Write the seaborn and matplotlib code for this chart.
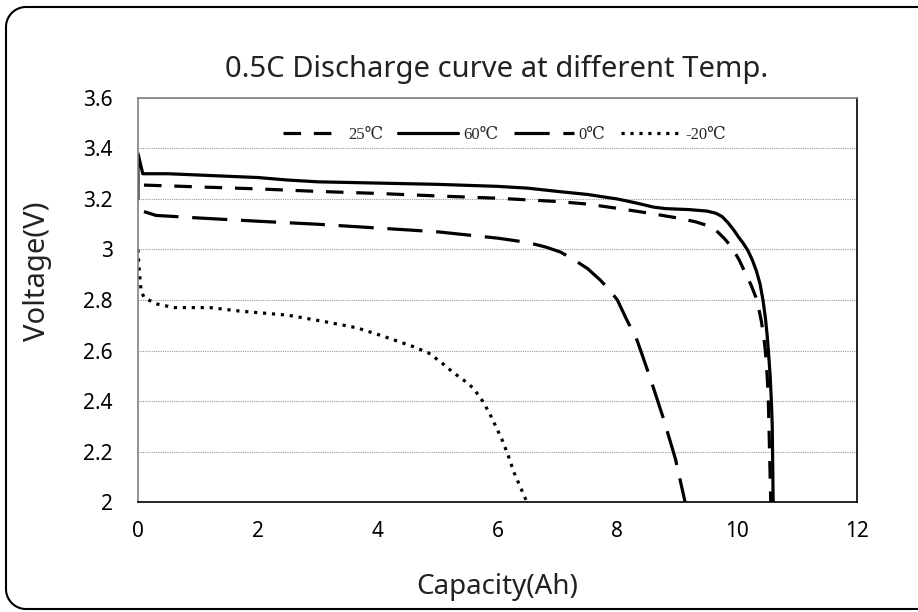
import numpy as np
import pandas as pd
import matplotlib
matplotlib.use("Agg")
import matplotlib.pyplot as plt
import seaborn as sns
from matplotlib.lines import Line2D
from matplotlib.ticker import FuncFormatter

sns.set_theme(style="white")
plt.rcParams['font.family'] = ['Noto Sans', 'DejaVu Sans']

# Capacity (Ah) / Voltage (V) per temperature
cap_25 = [0.1, 0.5, 1, 2, 3, 4, 5, 6, 7, 7.5, 8, 8.5, 9, 9.3, 9.5, 9.65, 9.78, 9.87,
          9.93, 10.03, 10.13, 10.23, 10.33, 10.4, 10.44, 10.47, 10.5, 10.52, 10.54, 10.56]
volt_25 = [3.255, 3.252, 3.248, 3.24, 3.23, 3.222, 3.212, 3.203, 3.19, 3.18, 3.163, 3.145,
           3.125, 3.11, 3.095, 3.075, 3.045, 3.02, 3.0, 2.96, 2.91, 2.86, 2.8, 2.72, 2.66,
           2.6, 2.5, 2.4, 2.2, 2.0]

cap_60 = [0, 0, 0.08, 0.5, 1, 2, 2.5, 3, 4, 5, 6, 6.5, 7, 7.5, 8, 8.3, 8.6, 8.8,
          9.2, 9.5, 9.65, 9.75, 9.85, 9.94, 10.02, 10.1, 10.18, 10.25, 10.32, 10.38, 10.43,
          10.47, 10.5, 10.52, 10.55, 10.57, 10.585, 10.59, 10.6]
volt_60 = [3.2, 3.38, 3.30, 3.30, 3.295, 3.285, 3.275, 3.268, 3.263, 3.258, 3.25, 3.243,
           3.23, 3.218, 3.2, 3.185, 3.168, 3.162, 3.158, 3.152, 3.143, 3.13, 3.105, 3.078,
           3.05, 3.025, 2.995, 2.96, 2.915, 2.865, 2.8, 2.73, 2.66, 2.6, 2.5, 2.4, 2.3,
           2.2, 2.0]

cap_0 = [0.1, 0.3, 1, 2, 3, 4, 5, 6, 6.5, 6.8, 7.05, 7.27, 7.5, 7.71, 7.85, 8.0, 8.15,
         8.33, 8.55, 8.77, 8.97, 9.13]
volt_0 = [3.15, 3.135, 3.125, 3.112, 3.1, 3.085, 3.07, 3.045, 3.028, 3.01, 2.99, 2.96,
          2.925, 2.88, 2.845, 2.8, 2.725, 2.64, 2.49, 2.33, 2.17, 2.0]

cap_m20 = [0, 0.02, 0.05, 0.1, 0.3, 0.6, 1.2, 1.7, 2.0, 2.5, 3.1, 3.65, 4.05, 4.6,
           4.85, 5.05, 5.25, 5.45, 5.6, 5.75, 5.87, 5.97, 6.07, 6.17, 6.27, 6.38, 6.49]
volt_m20 = [3.0, 2.92, 2.84, 2.81, 2.785, 2.77, 2.77, 2.756, 2.75, 2.74, 2.715, 2.69,
            2.66, 2.615, 2.59, 2.555, 2.515, 2.48, 2.45, 2.40, 2.35, 2.3, 2.25, 2.19,
            2.12, 2.06, 2.0]

labels = ['25℃', '60℃', '0℃', '-20℃']
series = [(cap_25, volt_25), (cap_60, volt_60), (cap_0, volt_0), (cap_m20, volt_m20)]
styles = [(0, (5.5, 4)), '-', (0, (11, 4.3)), (0, (1, 1.8))]

fig = plt.figure(figsize=(9.18, 6.12), dpi=100)
ax = fig.add_axes([0.1503, 0.1797, 0.7833, 0.6602])

for lab, (x, y), ls in zip(labels, series, styles):
    df = pd.DataFrame({'cap': x, 'volt': y})
    sns.lineplot(data=df, x='cap', y='volt', ax=ax, sort=False, estimator=None,
                 color='black', linewidth=2.3, linestyle=ls, label=lab)

ax.set_xlim(0, 12)
ax.set_ylim(2, 3.6)
ax.set_xticks(np.arange(0, 13, 2))
ax.set_yticks(np.arange(2, 3.61, 0.2))
ax.yaxis.set_major_formatter(FuncFormatter(lambda v, p: f'{v:g}'))
ax.grid(axis='y', color='#999999', linestyle=(0, (1, 1)), linewidth=0.8)
ax.grid(axis='x', visible=False)
ax.tick_params(direction='in', length=5, labelsize=15, colors='black')
ax.tick_params(axis='x', pad=14)
ax.tick_params(axis='y', color='#808080', pad=18)

ax.spines['left'].set_color('#808080')
ax.spines['top'].set_color('#808080')
ax.spines['right'].set_color('black')
ax.spines['bottom'].set_color('black')
for s in ax.spines.values():
    s.set_linewidth(1.2)

ax.set_xlabel('Capacity(Ah)', fontsize=20, color='#222222', labelpad=22)
ax.set_ylabel('Voltage(V)', fontsize=21, color='#222222')
ax.yaxis.set_label_coords(-0.12, 0.57)

fig.text(0.541, 0.887, '0.5C Discharge curve at different Temp.', ha='center',
         va='center', fontsize=21, color='#222222')

leg = ax.legend(loc='upper center', bbox_to_anchor=(0.51, 0.965), ncol=4, frameon=False,
                handlelength=3.6, handletextpad=0.3, columnspacing=0.9,
                prop={'family': ['Liberation Serif', 'DejaVu Serif'], 'size': 12})

# rounded outer frame (left side only, runs off the right edge)
W, H, r = 918, 612, 20
left, top, bottom = 6, 7, 609
t = np.linspace(0, np.pi / 2, 20)
fx = np.concatenate([[W], left + r - r * np.sin(t), left + r - r * np.cos(t), [W]])
fy = np.concatenate([[top], top + r - r * np.cos(t), bottom - r + r * np.sin(t), [bottom]])
fig.add_artist(Line2D(fx / W, 1 - fy / H, transform=fig.transFigure, color='black',
                      linewidth=1.5))

fig.savefig('out.png', dpi=100)
